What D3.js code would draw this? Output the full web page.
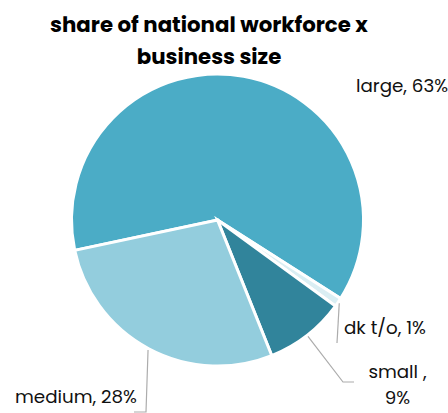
<!DOCTYPE html>
<html>
<head>
<meta charset="utf-8">
<script src="https://cdn.jsdelivr.net/npm/d3@7"></script>
<style>
  html, body { margin: 0; padding: 0; background: #fff; }
  svg { display: block; }
  .title { font-family: "Poppins", "Inter", "Open Sans", sans-serif; font-weight: 700; font-size: 21.3px; fill: #000; }
  .lbl { font-family: "Poppins", "Inter", "Open Sans", sans-serif; font-size: 18.3px; fill: #111; }
</style>
</head>
<body>
<svg id="chart" width="448" height="413"></svg>
<script>
// Share of national workforce by business size (percent)
const categories = ["large", "dk t/o", "small", "medium"];
const shares = [63, 1, 9, 28];
const sliceColors = ["#4BACC6", "#DAEEF3", "#31849B", "#93CDDD"];
const titleLines = ["share of national workforce x", "business size"];
const labelLines = [["large, 63%"], ["dk t/o, 1%"], ["small ,", "9%"], ["medium, 28%"]];

const width = 448, height = 413;
const cx = 217.5, cy = 220, radius = 146;
const startDeg = -102;

const svg = d3.select("#chart");

// Title
svg.append("g")
  .selectAll("text")
  .data(titleLines)
  .join("text")
  .attr("class", "title")
  .attr("x", 209)
  .attr("y", (d, i) => 32 + i * 31.5)
  .attr("text-anchor", "middle")
  .text(d => d);

const data = categories.map((c, i) => ({ name: c, value: shares[i], color: sliceColors[i], lines: labelLines[i] }));

const pie = d3.pie()
  .sort(null)
  .value(d => d.value)
  .startAngle(startDeg * Math.PI / 180)
  .endAngle((startDeg + 360) * Math.PI / 180);

const arc = d3.arc().innerRadius(0).outerRadius(radius);
const arcs = pie(data);

const g = svg.append("g").attr("transform", `translate(${cx},${cy})`);

g.selectAll("path")
  .data(arcs)
  .join("path")
  .attr("d", arc)
  .attr("fill", d => d.data.color)
  .attr("stroke", "#fff")
  .attr("stroke-width", 3)
  .attr("stroke-linejoin", "miter");

// Label placement per slice: leader polyline points and text anchor
const labelLayout = {
  "large":  { pts: null, tx: 356, ty: 92, anchor: "start" },
  "dk t/o": { pts: [[1.01, 0], [337 - cx, 343 - cy]], tx: 344, ty: 334, anchor: "start" },
  "small":  { pts: [[1.01, 0], [343 - cx, 382 - cy], [354 - cx, 382 - cy]], tx: 397.5, ty: 378, anchor: "middle" },
  "medium": { pts: [[1.01, 0], [146 - cx, 412 - cy], [134 - cx, 412 - cy]], tx: 137, ty: 403, anchor: "end" }
};

const leader = d3.line();
const lab = svg.append("g");

arcs.forEach(a => {
  const L = labelLayout[a.data.name];
  const mid = (a.startAngle + a.endAngle) / 2;
  if (L.pts) {
    const pts = L.pts.map((p, i) => {
      if (i === 0) {
        const r = radius * p[0];
        return [cx + r * Math.sin(mid), cy - r * Math.cos(mid)];
      }
      return [cx + p[0], cy + p[1]];
    });
    lab.append("path")
      .attr("d", leader(pts))
      .attr("fill", "none")
      .attr("stroke", "#acacac")
      .attr("stroke-width", 1.2);
  }
  const t = lab.append("text")
    .attr("class", "lbl")
    .attr("x", L.tx)
    .attr("y", L.ty)
    .attr("text-anchor", L.anchor);
  a.data.lines.forEach((line, i) => {
    t.append("tspan")
      .attr("x", L.tx)
      .attr("dy", i === 0 ? 0 : 26)
      .text(line);
  });
});
</script>
</body>
</html>
